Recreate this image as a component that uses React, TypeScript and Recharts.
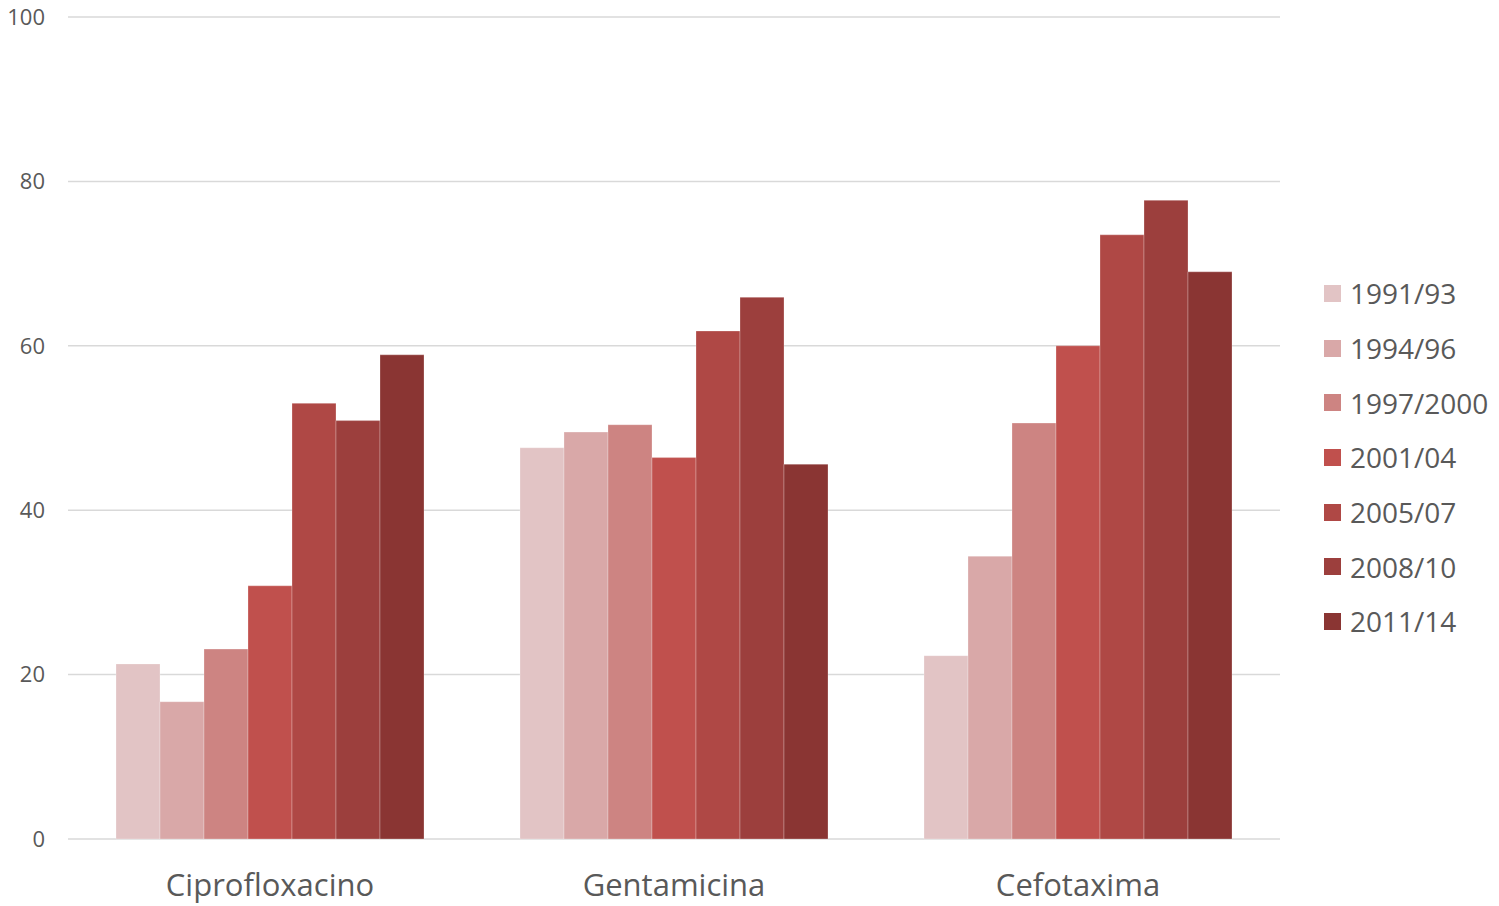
import React from 'react';
import {
  BarChart,
  Bar,
  XAxis,
  YAxis,
  CartesianGrid,
  Legend,
} from 'recharts';

const antibiotics = ['Ciprofloxacino', 'Gentamicina', 'Cefotaxima'];

const periods = ['1991/93', '1994/96', '1997/2000', '2001/04', '2005/07', '2008/10', '2011/14'];

const periodColors = ['#E2C4C5', '#D9A8A8', '#CD8482', '#C0504D', '#AF4845', '#9C3F3D', '#8A3533'];

// one array per period, in the order of antibiotics
const p1991 = [21.3, 47.6, 22.3];
const p1994 = [16.7, 49.5, 34.4];
const p1997 = [23.1, 50.4, 50.6];
const p2001 = [30.8, 46.4, 60.0];
const p2005 = [53.0, 61.8, 73.5];
const p2008 = [50.9, 65.9, 77.7];
const p2011 = [58.9, 45.6, 69.0];

const seriesValues = [p1991, p1994, p1997, p2001, p2005, p2008, p2011];

const yTicks = [0, 20, 40, 60, 80, 100];

const data = antibiotics.map((name, i) => {
  const row: Record<string, any> = { name };
  periods.forEach((p, j) => {
    row[p] = seriesValues[j][i];
  });
  return row;
});

const FONT = '"Open Sans", sans-serif';

const PeriodLegend = () => (
  <div style={{ fontFamily: FONT }}>
    {periods.map((p, i) => (
      <div
        key={p}
        style={{ display: 'flex', alignItems: 'center', height: 54.7 }}
      >
        <div
          style={{ width: 17, height: 17, background: periodColors[i], marginRight: 9 }}
        />
        <span style={{ fontSize: 28, color: '#595959' }}>{p}</span>
      </div>
    ))}
  </div>
);

export default function App() {
  return (
    <div style={{ position: 'absolute', left: 0, top: 0, background: '#fff' }}>
      <BarChart
        width={1499}
        height={906}
        data={data}
        margin={{ top: 17, right: 219, bottom: 0, left: 0 }}
        barCategoryGap={48}
        barGap={0}
      >
        <CartesianGrid vertical={false} stroke="#D9D9D9" strokeWidth={1.5} />
        <XAxis
          dataKey="name"
          height={67}
          axisLine={false}
          tickLine={false}
          tickSize={0}
          tickMargin={35}
          tick={{ fill: '#595959', fontSize: 31, fontFamily: FONT }}
        />
        <YAxis
          domain={[0, 100]}
          ticks={yTicks}
          width={68}
          axisLine={false}
          tickLine={false}
          tickSize={0}
          tickMargin={23}
          tick={{ fill: '#595959', fontSize: 22, fontFamily: FONT }}
        />
        <Legend
          layout="vertical"
          align="center"
          verticalAlign="middle"
          wrapperStyle={{ left: 1324, top: 266, width: 175 }}
          content={<PeriodLegend />}
        />
        {periods.map((p, i) => (
          <Bar
            key={p}
            dataKey={p}
            fill={periodColors[i]}
            stroke="#ffffff"
            strokeOpacity={0.25}
            strokeWidth={1}
            isAnimationActive={false}
          />
        ))}
      </BarChart>
    </div>
  );
}
